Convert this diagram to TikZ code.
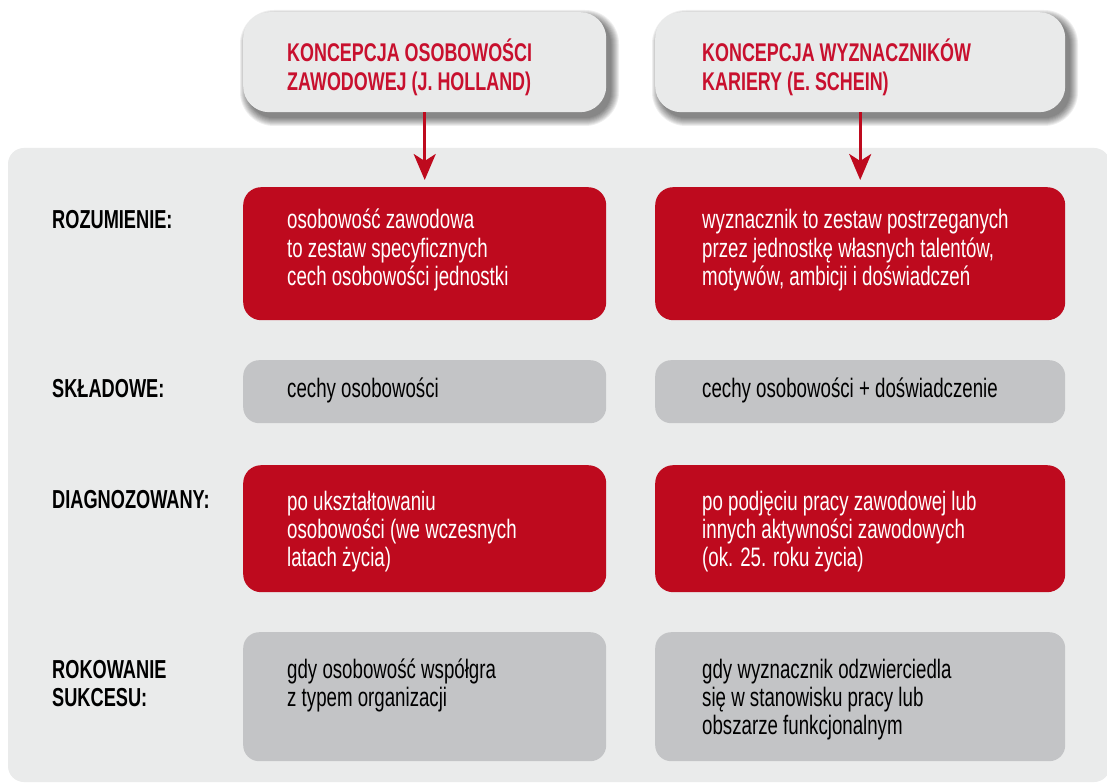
\documentclass[tikz,border=0pt]{standalone}
\usepackage{fontspec}
\setmainfont{Liberation Sans}[FakeStretch=0.70]
\usetikzlibrary{arrows.meta}
\definecolor{panelgray}{RGB}{234,235,235}
\definecolor{headgray}{RGB}{233,234,234}
\definecolor{boxgray}{RGB}{195,196,198}
\definecolor{boxred}{RGB}{190,10,30}
\definecolor{headred}{RGB}{200,16,46}
\tikzset{
  panelbox/.style={fill=panelgray, rounded corners=16pt, draw=none},
  headbox/.style={fill=headgray, rounded corners=26pt, draw=none, anchor=north west,
    minimum height=100pt, inner sep=0pt},
  softshadow/.style={fill=black, opacity=0.068},
  redbox/.style={fill=boxred, rounded corners=18pt, draw=none, anchor=north west, inner sep=0pt},
  graybox/.style={fill=boxgray, rounded corners=16pt, draw=none, anchor=north west, inner sep=0pt},
  headtext/.style={text=headred, font=\bfseries\fontsize{25.6}{29}\selectfont, align=left, anchor=base west, inner sep=0pt},
  labeltext/.style={text=black, font=\bfseries\fontsize{26}{28}\selectfont, align=left, anchor=base west, inner sep=0pt},
  bodywhite/.style={text=white, font=\fontsize{26.7}{28.3}\selectfont, align=left, anchor=base west, inner sep=0pt},
  bodyblack/.style={text=black, font=\fontsize{26.7}{28.3}\selectfont, align=left, anchor=base west, inner sep=0pt},
  conn/.style={draw=boxred, line width=3pt, -{Stealth[length=26pt, width=22pt, inset=7pt]}, shorten >=7pt}
}
\begin{document}
\begin{tikzpicture}[x=1pt, y=-1pt]
\useasboundingbox (0,0) rectangle (1107,783);
\fill[white] (0,0) rectangle (1107,783);
\fill[panelbox] (8,148) rectangle (1110,782);
% soft shadows of the header boxes
\foreach \e in {0,1,...,8} {
  \fill[softshadow, rounded corners=26pt+\e pt] (248-\e,18-\e) rectangle (611+\e,118+\e);
  \fill[softshadow, rounded corners=26pt+\e pt] (660-\e,18-\e) rectangle (1070+\e,118+\e);
}
% headers
\node[headbox, minimum width=363pt] (h1) at (243,12) {};
\node[headbox, minimum width=410pt] (h2) at (655,12) {};
% (base anchor = baseline of the last line)
\node[headtext] (ht1) at (287,91) {KONCEPCJA OSOBOWOŚCI\\ZAWODOWEJ (J. HOLLAND)};
\node[headtext] (ht2) at (702,91) {KONCEPCJA WYZNACZNIKÓW\\KARIERY (E. SCHEIN)};
% row 1
\node[redbox, minimum width=363pt, minimum height=133pt] (a1) at (243,187) {};
\node[redbox, minimum width=410pt, minimum height=133pt] (b1) at (655,187) {};
% row 2
\node[graybox, minimum width=363pt, minimum height=63pt] (a2) at (243,360) {};
\node[graybox, minimum width=410pt, minimum height=63pt] (b2) at (655,360) {};
% row 3
\node[redbox, minimum width=363pt, minimum height=127pt] (a3) at (243,465) {};
\node[redbox, minimum width=410pt, minimum height=127pt] (b3) at (655,465) {};
% row 4
\node[graybox, minimum width=363pt, minimum height=129pt] (a4) at (243,632) {};
\node[graybox, minimum width=410pt, minimum height=129pt] (b4) at (655,632) {};
% connectors
\draw[conn] (h1.south) -- (a1.north);
\draw[conn] (h2.south) -- (b1.north);
% labels
\node[labeltext] (l1) at (52,229) {ROZUMIENIE:};
\node[labeltext] (l2) at (52,397) {SKŁADOWE:};
\node[labeltext] (l3) at (52,508) {DIAGNOZOWANY:};
\node[labeltext] (l4) at (52,706) {ROKOWANIE\\SUKCESU:};
% texts
\node[bodywhite] (ta1) at (287,285.6) {osobowość zawodowa\\to zestaw specyficznych\\cech osobowości jednostki};
\node[bodywhite] (tb1) at (702,285.6) {wyznacznik to zestaw postrzeganych\\przez jednostkę własnych talentów,\\motywów, ambicji i doświadczeń};
\node[bodyblack] (ta2) at (287,397) {cechy osobowości};
\node[bodyblack] (tb2) at (702,397) {cechy osobowości + doświadczenie};
\node[bodywhite] (ta3) at (287,566.6) {po ukształtowaniu\\osobowości (we wczesnych\\latach życia)};
\node[bodywhite] (tb3) at (702,566.6) {po podjęciu pracy zawodowej lub\\innych aktywności zawodowych\\(ok. 25. roku życia)};
\node[bodyblack] (ta4) at (287,706.3) {gdy osobowość współgra\\z typem organizacji};
\node[bodyblack] (tb4) at (702,734.6) {gdy wyznacznik odzwierciedla\\się w stanowisku pracy lub\\obszarze funkcjonalnym};
\end{tikzpicture}
\end{document}
